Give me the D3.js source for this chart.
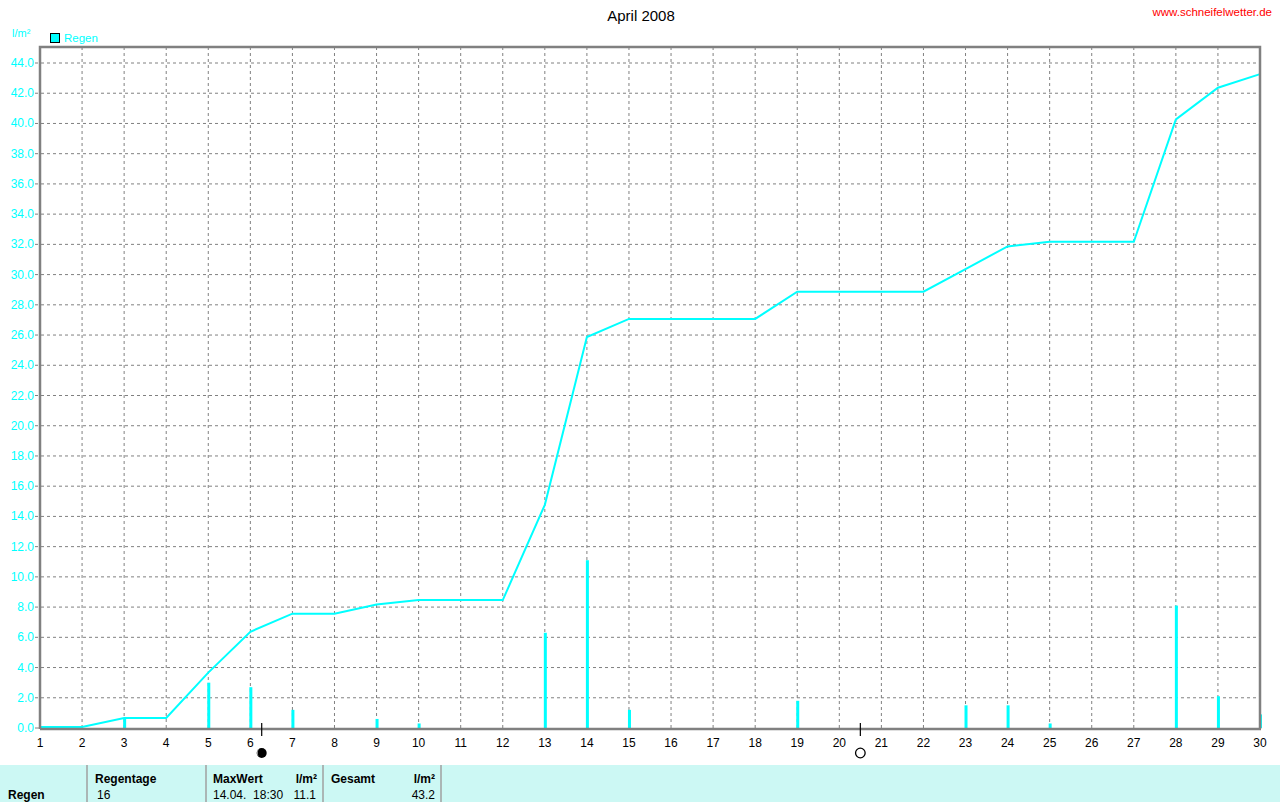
<!DOCTYPE html>
<html><head><meta charset="utf-8">
<script src="https://cdn.jsdelivr.net/npm/d3@7"></script>
<style>body{margin:0;background:#fff;} svg{display:block;font-family:"Liberation Sans",Arial,sans-serif;}</style>
</head><body>
<svg id="c" width="1280" height="802"></svg>
<script>
const days = d3.range(1, 31);
const dailyRain = [0,0,0.6,0,3.0,2.7,1.2,0,0.6,0.3,0,0,6.3,11.1,1.2,0,0,0,1.8,0,0,0,1.5,1.5,0.3,0,0,8.1,2.1,0.9];
const cumulative = [0,0,0.6,0.6,3.6,6.3,7.5,7.5,8.1,8.4,8.4,8.4,14.7,25.8,27.0,27.0,27.0,27.0,28.8,28.8,28.8,28.8,30.3,31.8,32.1,32.1,32.1,40.2,42.3,43.2];
const yTicks = d3.range(0, 45, 2);
const moonDays = [6.27, 20.5];
const moonTypes = ["new", "full"];
const tableHeaders = ["Regentage", "MaxWert", "l/m²", "Gesamt", "l/m²"];
const tableValues = ["16", "14.04.  18:30", "11.1", "43.2"];

const svg = d3.select("#c");
const cyan = "#00ffff", grid = "#808080";
const x = d3.scaleLinear().domain([1, 30]).range([40, 1260]);
const y = d3.scaleLinear().domain([0, 44]).range([728, 63]);
const frameTop = 47;

// gridlines
svg.append("g").selectAll("line").data(yTicks.filter(d => d > 0)).join("line")
  .attr("x1", 35).attr("x2", 1260).attr("y1", d => y(d)).attr("y2", d => y(d))
  .attr("stroke", grid).attr("stroke-dasharray", "3,3");
svg.append("g").selectAll("line").data(days.slice(1, -1)).join("line")
  .attr("x1", d => x(d)).attr("x2", d => x(d)).attr("y1", frameTop).attr("y2", 728)
  .attr("stroke", grid).attr("stroke-dasharray", "3,3");
svg.append("line").attr("x1", 35).attr("x2", 40).attr("y1", y(0)).attr("y2", y(0)).attr("stroke", grid);

// y labels
svg.append("g").selectAll("text").data(yTicks).join("text")
  .attr("x", 34).attr("y", d => y(d) + 4).attr("text-anchor", "end")
  .attr("fill", cyan).attr("font-size", 12).text(d => d.toFixed(1));
// x labels
svg.append("g").selectAll("text").data(days).join("text")
  .attr("x", d => x(d)).attr("y", 747).attr("text-anchor", "middle")
  .attr("fill", "#000").attr("font-size", 12).text(d => d);

// bars
svg.append("g").selectAll("rect").data(days.map((d, i) => ({d, v: dailyRain[i]})).filter(o => o.v > 0)).join("rect")
  .attr("x", o => x(o.d) - 1).attr("width", 3).attr("y", o => y(o.v)).attr("height", o => y(0) - y(o.v))
  .attr("fill", cyan);

// cumulative line
svg.append("path").datum(days.map((d, i) => [d, cumulative[i]]))
  .attr("d", d3.line().x(p => x(p[0])).y(p => y(p[1]) - 1))
  .attr("fill", "none").attr("stroke", cyan).attr("stroke-width", 2);

// frame
svg.append("path").attr("d", `M40,729V${frameTop}H1260V729`).attr("fill", "none").attr("stroke", grid).attr("stroke-width", 2.5);
svg.append("line").attr("x1", 40).attr("x2", 1261).attr("y1", 729).attr("y2", 729).attr("stroke", grid).attr("stroke-width", 2.5);

// moon markers
moonDays.forEach((m, i) => {
  const cx = x(m);
  svg.append("line").attr("x1", cx).attr("x2", cx).attr("y1", 723).attr("y2", 736).attr("stroke", "#000").attr("stroke-width", 1.2);
  if (moonTypes[i] === "new") {
    svg.append("circle").attr("cx", cx).attr("cy", 753).attr("r", 5).attr("fill", "#000");
    svg.append("path").attr("d", `M${cx-2.5},748.8 A5,5 0 0 0 ${cx-2.5},757.2 A6,6 0 0 1 ${cx-2.5},748.8Z`).attr("fill","#fff");
  } else {
    svg.append("circle").attr("cx", cx).attr("cy", 753).attr("r", 4.8).attr("fill", "#fff").attr("stroke", "#000").attr("stroke-width", 1.3);
  }
});

// title etc.
svg.append("text").attr("x", 641).attr("y", 21).attr("text-anchor", "middle").attr("font-size", 15).text("April 2008");
svg.append("text").attr("x", 1272).attr("y", 16).attr("text-anchor", "end").attr("font-size", 11.5).attr("fill", "#ff0000").text("www.schneifelwetter.de");
svg.append("text").attr("x", 12).attr("y", 37).attr("font-size", 11).attr("fill", cyan).text("l/m²");
svg.append("rect").attr("x", 50.5).attr("y", 33.5).attr("width", 9).attr("height", 9).attr("fill", cyan).attr("stroke", "#000");
svg.append("text").attr("x", 64).attr("y", 42).attr("font-size", 11.5).attr("fill", cyan).text("Regen");

// table
svg.append("rect").attr("x", 0).attr("y", 765).attr("width", 1280).attr("height", 37).attr("fill", "#ccf8f4");
[87, 206, 323, 441].forEach(v => svg.append("line").attr("x1", v).attr("x2", v).attr("y1", 765).attr("y2", 802).attr("stroke", "#a0a0a0").attr("stroke-width", 1.5));
const tb = svg.append("g").attr("font-size", 12).attr("fill", "#000");
tb.append("text").attr("x", 8).attr("y", 799).attr("font-weight", "bold").text("Regen");
const hPos = [[95, "start"], [213, "start"], [317, "end"], [331, "start"], [435, "end"]];
tableHeaders.forEach((t, i) => tb.append("text").attr("x", hPos[i][0]).attr("y", 783).attr("text-anchor", hPos[i][1]).attr("font-weight", "bold").text(t));
const vPos = [[97, "start"], [213, "start"], [316, "end"], [435, "end"]];
tableValues.forEach((t, i) => tb.append("text").attr("x", vPos[i][0]).attr("y", 799).attr("text-anchor", vPos[i][1]).attr("xml:space", "preserve").style("white-space", "pre").text(t));
</script>
</body></html>
